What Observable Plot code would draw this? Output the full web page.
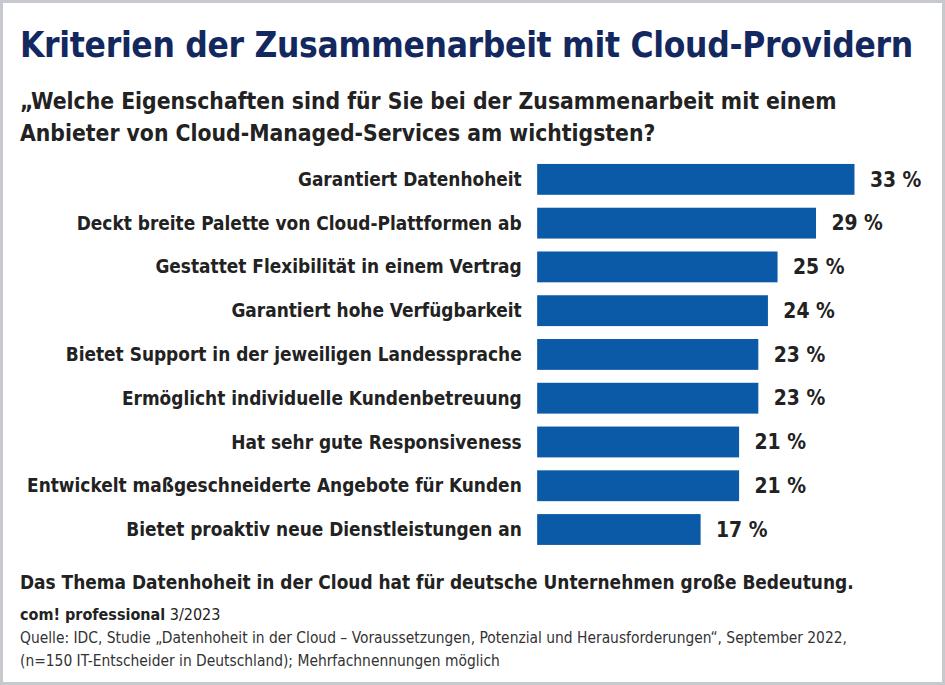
<!DOCTYPE html>
<html>
<head>
<meta charset="utf-8">
<script src="https://cdn.jsdelivr.net/npm/d3@7"></script>
<script src="https://cdn.jsdelivr.net/npm/@observablehq/plot@0.6"></script>
<style>
  html, body { margin: 0; padding: 0; background: #fff; }
  #frame {
    position: relative; width: 945px; height: 685px; box-sizing: border-box;
    border: 3px solid #c6cacf; overflow: hidden;
    font-family: "DejaVu Sans Condensed", "Liberation Sans Narrow", "DejaVu Sans", sans-serif;
    color: #222;
  }
  .t { position: absolute; left: 17px; white-space: nowrap; }
  #title { top: 22px; font-size: 35px; font-weight: bold; color: #13285f; letter-spacing: -0.3px; }
  #sub { top: 82px; font-size: 22.7px; font-weight: bold; line-height: 32px; color: #222; }
  #chart { position: absolute; left: -1px; top: 152px; }
  #note { top: 568px; font-size: 18.9px; font-weight: bold; }
  #pub { top: 602px; font-size: 16px; }
  #src { top: 624px; font-size: 15.4px; line-height: 23px; color: #333; }
</style>
</head>
<body>
<div id="frame">
  <div class="t" id="title">Kriterien der Zusammenarbeit mit Cloud-Providern</div>
  <div class="t" id="sub">„Welche Eigenschaften sind für Sie bei der Zusammenarbeit mit einem<br>Anbieter von Cloud-Managed-Services am wichtigsten?</div>
  <div id="chart"></div>
  <div class="t" id="note">Das Thema Datenhoheit in der Cloud hat für deutsche Unternehmen große Bedeutung.</div>
  <div class="t" id="pub"><b>com! professional</b> 3/2023</div>
  <div class="t" id="src">Quelle: IDC, Studie „Datenhoheit in der Cloud – Voraussetzungen, Potenzial und Herausforderungen“, September 2022,<br>(n=150 IT-Entscheider in Deutschland); Mehrfachnennungen möglich</div>
</div>
<script>
const categories = [
  "Garantiert Datenhoheit",
  "Deckt breite Palette von Cloud-Plattformen ab",
  "Gestattet Flexibilität in einem Vertrag",
  "Garantiert hohe Verfügbarkeit",
  "Bietet Support in der jeweiligen Landessprache",
  "Ermöglicht individuelle Kundenbetreuung",
  "Hat sehr gute Responsiveness",
  "Entwickelt maßgeschneiderte Angebote für Kunden",
  "Bietet proaktiv neue Dienstleistungen an"
];
const values = [33, 29, 25, 24, 23, 23, 21, 21, 17];

const data = categories.map((c, i) => ({category: c, value: values[i]}));

const chart = Plot.plot({
  width: 945,
  height: 401,
  marginTop: 0,
  marginBottom: 0,
  marginLeft: 538,
  marginRight: 0,
  style: {fontFamily: '"DejaVu Sans Condensed", "Liberation Sans Narrow", "DejaVu Sans", sans-serif', color: "#222", background: "transparent"},
  x: {domain: [0, 40], range: [538, 538 + 40 * 9.667], axis: null},
  y: {domain: categories, paddingInner: 0.3, paddingOuter: 0.18, label: null},
  marks: [
    Plot.barX(data, {x: "value", y: "category", fill: "#0b5aa8"}),
    Plot.axisY({tickSize: 0, tickPadding: 16, fontSize: 19, fontWeight: "bold", label: null}),
    Plot.text(data, {x: "value", y: "category", text: d => `${d.value} %`, dx: 15, textAnchor: "start", fontSize: 21, fontWeight: "bold", fill: "#222"})
  ]
});
document.getElementById("chart").appendChild(chart);
</script>
</body>
</html>
